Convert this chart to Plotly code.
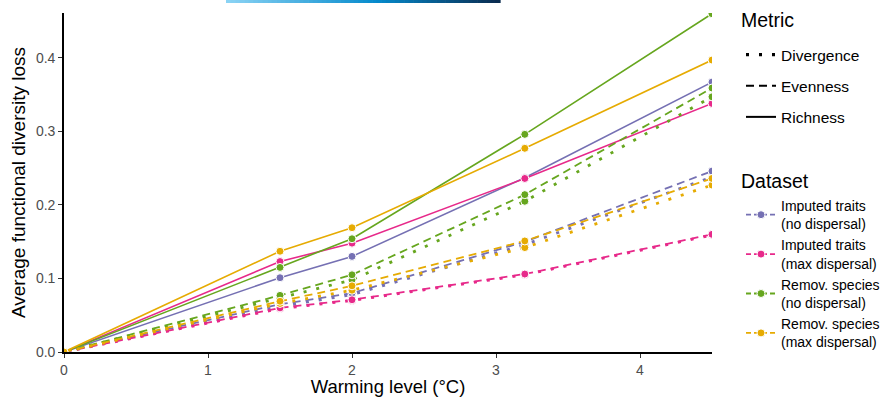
import plotly.graph_objects as go

# ---- data ----
warming = [0, 1.5, 2, 3.2, 4.5]
datasets = ["Imputed traits<br>(no dispersal)", "Imputed traits<br>(max dispersal)",
            "Remov. species<br>(no dispersal)", "Remov. species<br>(max dispersal)"]
metrics = ["Divergence", "Evenness", "Richness"]

imputed_nodisp_divergence = [0, 0.062, 0.078, 0.146, 0.238]
imputed_nodisp_evenness   = [0, 0.065, 0.080, 0.150, 0.246]
imputed_nodisp_richness   = [0, 0.101, 0.130, 0.237, 0.367]

imputed_maxdisp_divergence = [0, 0.059, 0.070, 0.105, 0.159]
imputed_maxdisp_evenness   = [0, 0.060, 0.071, 0.106, 0.160]
imputed_maxdisp_richness   = [0, 0.123, 0.148, 0.236, 0.338]

remov_nodisp_divergence = [0, 0.073, 0.098, 0.205, 0.347]
remov_nodisp_evenness   = [0, 0.077, 0.105, 0.214, 0.359]
remov_nodisp_richness   = [0, 0.115, 0.154, 0.296, 0.460]

remov_maxdisp_divergence = [0, 0.066, 0.084, 0.142, 0.227]
remov_maxdisp_evenness   = [0, 0.069, 0.090, 0.151, 0.236]
remov_maxdisp_richness   = [0, 0.137, 0.169, 0.277, 0.397]

values = [
    [imputed_nodisp_divergence, imputed_nodisp_evenness, imputed_nodisp_richness],
    [imputed_maxdisp_divergence, imputed_maxdisp_evenness, imputed_maxdisp_richness],
    [remov_nodisp_divergence, remov_nodisp_evenness, remov_nodisp_richness],
    [remov_maxdisp_divergence, remov_maxdisp_evenness, remov_maxdisp_richness],
]

x_ticks = [0, 1, 2, 3, 4]
y_ticks = [0.0, 0.1, 0.2, 0.3, 0.4]

# ---- styles ----
colors = ["#7570B3", "#E7298A", "#66A61E", "#E6AB02"]
dashes = {"Divergence": "3px,10px", "Evenness": "8px,5px", "Richness": "solid"}
widths = {"Divergence": 2.8, "Evenness": 1.8, "Richness": 1.6}

fig = go.Figure()

for di, ds in enumerate(datasets):
    for mi, m in enumerate(metrics):
        fig.add_trace(go.Scatter(
            x=warming, y=values[di][mi], mode="lines+markers",
            line=dict(color=colors[di], dash=dashes[m], width=widths[m]),
            marker=dict(size=8, color=colors[di], line=dict(color="white", width=1)),
            showlegend=False, hoverinfo="x+y", name=f"{ds} {m}"))

# legend: Metric
for m in metrics:
    fig.add_trace(go.Scatter(
        x=[None], y=[None], mode="lines", name=m,
        line=dict(color="black", dash=dashes[m], width=widths[m] + 0.4),
        legend="legend", legendgroup="m_" + m, showlegend=True))

# legend: Dataset
for di, ds in enumerate(datasets):
    fig.add_trace(go.Scatter(
        x=[None], y=[None], mode="lines+markers", name=ds,
        line=dict(color=colors[di], dash="5px,3px", width=1.8),
        marker=dict(size=8, color=colors[di], line=dict(color="white", width=1)),
        legend="legend2", legendgroup="d_" + str(di), showlegend=True))

# gradient bar at top (decorative, cropped colour scale)
stops = [(0.0, (140, 212, 245)), (0.55, (5, 138, 204)), (1.0, (10, 42, 78))]
def grad(t):
    for (t0, c0), (t1, c1) in zip(stops[:-1], stops[1:]):
        if t <= t1:
            f = (t - t0) / (t1 - t0)
            return "rgb(%d,%d,%d)" % tuple(round(a + (b - a) * f) for a, b in zip(c0, c1))
    return "rgb(%d,%d,%d)" % stops[-1][1]

n = 60
gx0, gx1 = (226 - 64) / 648, (500 - 64) / 648
gy0, gy1 = (352 - 3) / 339, (352 + 2) / 339
shapes = []
for i in range(n):
    a = gx0 + (gx1 - gx0) * i / n
    b = gx0 + (gx1 - gx0) * (i + 1) / n + 0.001
    shapes.append(dict(type="rect", xref="paper", yref="paper", x0=a, x1=b, y0=gy0, y1=gy1,
                       fillcolor=grad((i + 0.5) / n), line=dict(width=0), layer="above"))

font_family = "Liberation Sans, Arial, sans-serif"
W, H = 894, 397

# legend titles placed as annotations (pixel positions converted to plot-area paper coords)
def px_to_paper(px, py):
    return (px - 64) / 648, (352 - py) / 339

ax1, ay1 = px_to_paper(739, 20)
ax2, ay2 = px_to_paper(739, 181)
annotations = [
    dict(text="Metric", xref="paper", yref="paper", x=ax1, y=ay1,
         xanchor="left", yanchor="middle", showarrow=False, font=dict(size=19.5, color="black")),
    dict(text="Dataset", xref="paper", yref="paper", x=ax2, y=ay2,
         xanchor="left", yanchor="middle", showarrow=False, font=dict(size=19.5, color="black")),
]

fig.update_layout(
    width=W, height=H,
    margin=dict(l=64, r=182, t=13, b=45),
    paper_bgcolor="white", plot_bgcolor="white",
    font=dict(family=font_family, color="black"),
    shapes=shapes,
    annotations=annotations,
    xaxis=dict(range=[0, 4.5], tickvals=x_ticks, ticktext=[str(v) for v in x_ticks],
               showgrid=False, zeroline=False, showline=True, linecolor="black", linewidth=1.6,
               ticks="outside", ticklen=4, tickcolor="#333333", tickwidth=1,
               tickfont=dict(size=14, color="#4d4d4d"), automargin=False,
               title=dict(text="Warming level (°C)", font=dict(size=18.5, color="black"), standoff=3),
               fixedrange=True),
    yaxis=dict(range=[0, 0.461], tickvals=y_ticks, ticktext=["%.1f" % v for v in y_ticks],
               showgrid=False, zeroline=False, showline=True, linecolor="black", linewidth=1.6,
               ticks="outside", ticklen=4, tickcolor="#333333", tickwidth=1,
               tickfont=dict(size=14, color="#4d4d4d"), automargin=False,
               title=dict(text="Average functional diversity loss", font=dict(size=19, color="black"), standoff=5),
               fixedrange=True),
    legend=dict(font=dict(size=15.5),
                xref="container", yref="container", x=741 / W, y=1 - 38 / H,
                xanchor="left", yanchor="top", tracegroupgap=8, bgcolor="rgba(0,0,0,0)"),
    legend2=dict(font=dict(size=14),
                 xref="container", yref="container", x=741 / W, y=1 - 190 / H,
                 xanchor="left", yanchor="top", tracegroupgap=0, bgcolor="rgba(0,0,0,0)"),
)

fig.write_html("out.html")
